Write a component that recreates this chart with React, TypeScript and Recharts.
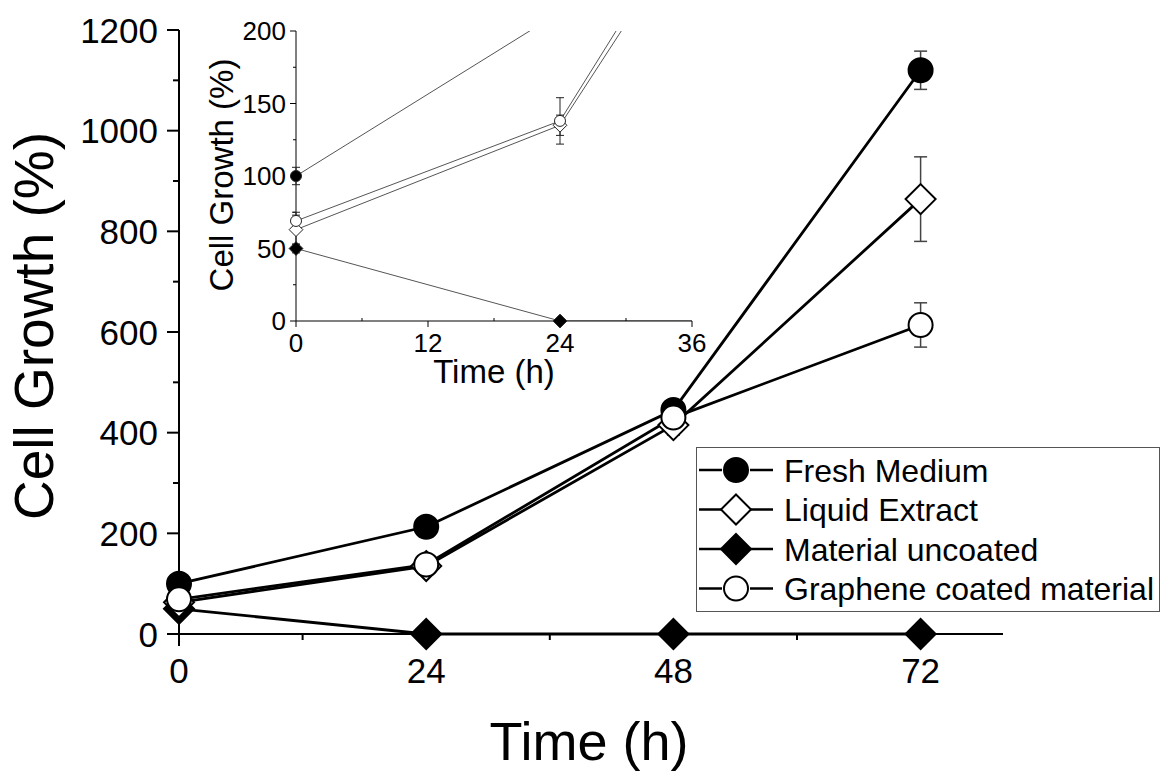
import React from "react";
import { LineChart, Line, XAxis, YAxis, ErrorBar, Legend } from "recharts";

const FONT = "'Liberation Sans', Arial, Helvetica, sans-serif";

// measured values (%), time in hours
const times = [0, 24, 48, 72];
const freshMedium = [100, 213, 445, 1120];
const freshMediumErr = [6, 5, 10, 38];
const liquidExtract = [63, 135, 415, 864];
const liquidExtractErr = [10, 7, 20, 84];
const materialUncoated = [50, 0, 0, 0];
const materialUncoatedErr = [3, 0, 0, 0];
const grapheneCoated = [69, 138, 430, 614];
const grapheneCoatedErr = [6, 16, 10, 44];

const mainXTicks = [0, 12, 24, 36, 48, 60, 72];
const mainXLabels = [0, 24, 48, 72];
const mainYTicks = [0, 100, 200, 300, 400, 500, 600, 700, 800, 900, 1000, 1100, 1200];
const mainYLabels = [0, 200, 400, 600, 800, 1000, 1200];
const insetXTicks = [0, 6, 12, 18, 24, 30, 36];
const insetXLabels = [0, 12, 24, 36];
const insetYTicks = [0, 25, 50, 75, 100, 125, 150, 175, 200];
const insetYLabels = [0, 50, 100, 150, 200];

const rows = times.map((t, i) => ({
	t,
	fresh: freshMedium[i],
	freshErr: freshMediumErr[i],
	liquid: liquidExtract[i],
	liquidErr: liquidExtractErr[i],
	uncoated: materialUncoated[i],
	uncoatedErr: materialUncoatedErr[i],
	graphene: grapheneCoated[i],
	grapheneErr: grapheneCoatedErr[i],
}));

type Series = { key: string; err: string; name: string; shape: "circle" | "diamond"; filled: boolean };

// drawing order: later ones sit on top
const series: Series[] = [
	{ key: "fresh", err: "freshErr", name: "Fresh Medium", shape: "circle", filled: true },
	{ key: "uncoated", err: "uncoatedErr", name: "Material uncoated", shape: "diamond", filled: true },
	{ key: "liquid", err: "liquidErr", name: "Liquid Extract", shape: "diamond", filled: false },
	{ key: "graphene", err: "grapheneErr", name: "Graphene coated material", shape: "circle", filled: false },
];
const legendOrder = ["fresh", "liquid", "uncoated", "graphene"];

const Marker = ({ cx, cy, s, r, stroke, sw }: { cx: number; cy: number; s: Series; r: number; stroke: string; sw: number }) => {
	const fill = s.filled ? "#000" : "#fff";
	if (s.shape === "circle") {
		return <circle cx={cx} cy={cy} r={r} fill={fill} stroke={stroke} strokeWidth={sw} />;
	}
	const h = r * 1.25;
	return (
		<path
			d={`M${cx},${cy - h}L${cx + h},${cy}L${cx},${cy + h}L${cx - h},${cy}Z`}
			fill={fill}
			stroke={stroke}
			strokeWidth={sw}
		/>
	);
};

const makeDot = (s: Series, r: number, stroke: string, sw: number) => (props: any) => {
	const { cx, cy, index } = props;
	if (cx == null || cy == null || isNaN(cx) || isNaN(cy)) return <g key={`${s.key}-${index}`} />;
	return (
		<g key={`${s.key}-${index}`}>
			<Marker cx={cx} cy={cy} s={s} r={r} stroke={stroke} sw={sw} />
		</g>
	);
};

const makeXTick =
	(labels: number[], major: number, minor: number, minorUp: boolean, fontSize: number, base: number, w: number) =>
	(props: any) => {
		const { x, y, payload } = props;
		const v = payload.value;
		const isMajor = labels.includes(v);
		const y2 = isMajor ? y + major : minorUp ? y - minor : y + minor;
		return (
			<g key={`xt-${v}`}>
				<line x1={x} x2={x} y1={y} y2={y2} stroke="#000" strokeWidth={w} />
				{isMajor && (
					<text x={x} y={y + base} textAnchor="middle" fontSize={fontSize} fontFamily={FONT} fill="#000">
						{v}
					</text>
				)}
			</g>
		);
	};

const makeYTick =
	(labels: number[], major: number, minor: number, fontSize: number, gap: number, w: number) => (props: any) => {
		const { x, y, payload } = props;
		const v = payload.value;
		const isMajor = labels.includes(v);
		return (
			<g key={`yt-${v}`}>
				<line x1={x - (isMajor ? major : minor)} x2={x} y1={y} y2={y} stroke="#000" strokeWidth={w} />
				{isMajor && (
					<text x={x - gap} y={y} dy="0.36em" textAnchor="end" fontSize={fontSize} fontFamily={FONT} fill="#000">
						{v}
					</text>
				)}
			</g>
		);
	};

// main plot area
const MAIN = { left: 179, top: 30, right: 1003, bottom: 634 };
// inset plot area
const INSET = { left: 296, top: 31, right: 692, bottom: 321 };

const W = 1165;
const H = 778;

const renderLegend = () => (
	<div style={{ width: 464, height: 165, boxSizing: "border-box", border: "1.5px solid #555", background: "#fff" }}>
		<svg width={462} height={162} style={{ display: "block" }}>
			{legendOrder.map((k, i) => {
				const s = series.find((d) => d.key === k)!;
				const cy = 22 + i * 39.5;
				return (
					<g key={k}>
						<line x1={2} x2={25} y1={cy} y2={cy} stroke="#000" strokeWidth={2.5} />
						<line x1={53} x2={76} y1={cy} y2={cy} stroke="#000" strokeWidth={2.5} />
						<Marker cx={39} cy={cy} s={s} r={12} stroke="#000" sw={2} />
						<text x={87} y={cy} dy="0.36em" fontSize={32} fontFamily={FONT} fill="#000">
							{s.name}
						</text>
					</g>
				);
			})}
		</svg>
	</div>
);

function MainChart() {
	return (
		<LineChart
			width={W}
			height={H}
			data={rows}
			margin={{ top: MAIN.top, right: W - MAIN.right, bottom: 0, left: 0 }}
		>
			<XAxis
				type="number"
				dataKey="t"
				domain={[0, 80]}
				ticks={mainXTicks}
				interval={0}
				height={H - MAIN.bottom}
				tickSize={0}
				tickMargin={0}
				tickLine={false}
				axisLine={{ stroke: "#000", strokeWidth: 2 }}
				tick={makeXTick(mainXLabels, 12, 6, false, 35, 49, 2)}
				label={() => (
					<text
						x={(MAIN.left + MAIN.right) / 2 - 2}
						y={760}
						textAnchor="middle"
						fontSize={54}
						fontFamily={FONT}
						fill="#000"
					>
						Time (h)
					</text>
				)}
			/>
			<YAxis
				type="number"
				domain={[0, 1200]}
				ticks={mainYTicks}
				interval={0}
				width={MAIN.left}
				tickSize={0}
				tickMargin={0}
				tickLine={false}
				axisLine={{ stroke: "#000", strokeWidth: 2 }}
				tick={makeYTick(mainYLabels, 12, 6, 35, 21, 2)}
				label={() => (
					<text
						x={53}
						y={326}
						transform="rotate(-90, 53, 326)"
						textAnchor="middle"
						fontSize={55}
						fontFamily={FONT}
						fill="#000"
					>
						Cell Growth (%)
					</text>
				)}
			/>
			{series.map((s) => (
				<Line
					key={s.key}
					dataKey={s.key}
					name={s.name}
					stroke="#000"
					strokeWidth={2.8}
					dot={makeDot(s, 12, "#000", 2)}
					activeDot={false}
					isAnimationActive={false}
				>
					<ErrorBar dataKey={s.err} direction="y" width={6.5} stroke="#444" strokeWidth={1.5} />
				</Line>
			))}
			<Legend
				layout="horizontal"
				verticalAlign="middle"
				align="center"
				width={464}
				height={165}
				content={renderLegend}
				wrapperStyle={{ left: 696, top: 447, width: 464, height: 165 }}
			/>
		</LineChart>
	);
}

function InsetLines() {
	return (
		<LineChart
			width={W}
			height={H}
			data={rows}
			margin={{ top: INSET.top, right: W - INSET.right, bottom: 0, left: 0 }}
		>
			<XAxis
				type="number"
				dataKey="t"
				domain={[0, 36]}
				allowDataOverflow
				ticks={insetXTicks}
				interval={0}
				height={H - INSET.bottom}
				tickSize={0}
				tickMargin={0}
				tickLine={false}
				axisLine={{ stroke: "#000", strokeWidth: 1 }}
				tick={makeXTick(insetXLabels, 6, 3, true, 26, 31, 1)}
				label={() => (
					<text
						x={(INSET.left + INSET.right) / 2}
						y={383}
						textAnchor="middle"
						fontSize={33}
						fontFamily={FONT}
						fill="#000"
					>
						Time (h)
					</text>
				)}
			/>
			<YAxis
				type="number"
				domain={[0, 200]}
				allowDataOverflow
				ticks={insetYTicks}
				interval={0}
				width={INSET.left}
				tickSize={0}
				tickMargin={0}
				tickLine={false}
				axisLine={{ stroke: "#000", strokeWidth: 1 }}
				tick={makeYTick(insetYLabels, 6, 3, 26, 10, 1)}
				label={() => (
					<text
						x={233}
						y={175}
						transform="rotate(-90, 233, 175)"
						textAnchor="middle"
						fontSize={33}
						fontFamily={FONT}
						fill="#000"
					>
						Cell Growth (%)
					</text>
				)}
			/>
			{series.map((s) => (
				<Line
					key={s.key}
					dataKey={s.key}
					stroke="#555"
					strokeWidth={1}
					dot={false}
					activeDot={false}
					isAnimationActive={false}
				/>
			))}
		</LineChart>
	);
}

function InsetMarkers() {
	return (
		<LineChart
			width={W}
			height={H}
			margin={{ top: INSET.top, right: W - INSET.right, bottom: H - INSET.bottom, left: INSET.left }}
		>
			<XAxis type="number" dataKey="t" domain={[0, 36]} hide />
			<YAxis type="number" domain={[0, 200]} hide />
			{series.map((s) => (
				<Line
					key={s.key}
					data={rows.filter((r: any) => r.t <= 36 && r[s.key] <= 200)}
					dataKey={s.key}
					stroke="none"
					strokeWidth={0}
					dot={makeDot(s, 5.5, "#222", 1)}
					activeDot={false}
					isAnimationActive={false}
				>
					<ErrorBar dataKey={s.err} direction="y" width={4} stroke="#222" strokeWidth={1} />
				</Line>
			))}
		</LineChart>
	);
}

export default function App() {
	return (
		<div style={{ position: "absolute", left: 0, top: 0, width: W, height: H, background: "#fff" }}>
			<div style={{ position: "absolute", left: 0, top: 0 }}>
				<MainChart />
			</div>
			<div style={{ position: "absolute", left: 0, top: 0 }}>
				<InsetLines />
			</div>
			<div style={{ position: "absolute", left: 0, top: 0 }}>
				<InsetMarkers />
			</div>
		</div>
	);
}
